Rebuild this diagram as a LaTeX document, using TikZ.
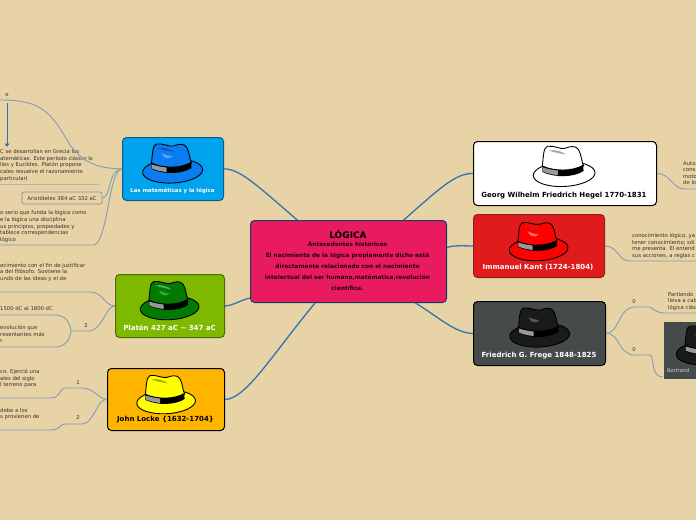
\documentclass[tikz,border=0pt]{standalone}
\usepackage{fontspec}
\setmainfont{DejaVu Sans}
\usetikzlibrary{calc,arrows.meta}
\definecolor{bgc}{HTML}{E8D3A6}
\definecolor{mainline}{HTML}{2F74B0}
\definecolor{subline}{HTML}{7F9FB3}
\definecolor{txtc}{HTML}{3A3026}
\definecolor{cKant}{HTML}{E01B1B}
\definecolor{cKantD}{HTML}{8A2020}
\definecolor{cGrey}{HTML}{454B4B}
\definecolor{cMat}{HTML}{00A3EE}
\definecolor{cMatD}{HTML}{125A86}
\definecolor{cPlat}{HTML}{7FB800}
\definecolor{cPlatD}{HTML}{4E6B10}
\definecolor{cLocke}{HTML}{FFB400}
\definecolor{cLog}{HTML}{E81B5E}
\definecolor{cLogD}{HTML}{173A66}
\definecolor{hBlue}{HTML}{0A7DF0}
\definecolor{hBlueA}{HTML}{0F55C0}
\definecolor{hBlueB}{HTML}{4FA5FF}
\definecolor{hGreen}{HTML}{007A00}
\definecolor{hGreenA}{HTML}{5FA85F}
\definecolor{hGreenB}{HTML}{3FA03F}
\definecolor{hYel}{HTML}{FFFF00}
\definecolor{hYelA}{HTML}{A8A800}
\definecolor{hRed}{HTML}{FF0000}
\definecolor{hRedA}{HTML}{C02020}
\definecolor{hRedB}{HTML}{FF6A6A}
\definecolor{hBlk}{HTML}{1A1A1A}
\definecolor{hBlkB}{HTML}{555555}
\tikzset{
 x=1pt,y=-1pt,
 mainbox/.style={draw,line width=1pt,rounded corners=4pt,inner sep=0pt,anchor=north west},
 title/.style={font=\fontsize{7}{8}\selectfont\bfseries,anchor=center,inner sep=0pt},
 body/.style={font=\fontsize{5.3}{6.6}\selectfont,text=txtc,align=left,anchor=north west,inner sep=0pt},
 num/.style={font=\fontsize{5.3}{6}\selectfont,text=txtc,inner sep=0pt},
 mainconn/.style={draw=mainline,line width=1.3pt},
 subconn/.style={draw=subline,line width=.9pt},
 under/.style={draw=subline!55!bgc,line width=1pt}
}
\newcommand{\fedora}[6]{%
 \begin{scope}[shift={(#1,#2)},scale=#3,line join=round]
  \draw[fill=#4,line width=.9pt,rotate=3] (0,3) ellipse [x radius=30,y radius=12];
  \draw[fill=#4,line width=.9pt] (-21,-5) .. controls (-20,-14) and (-20,-23) .. (-16,-24)
     .. controls (-10,-25) and (-4,-21) .. (1,-22) .. controls (6,-24) and (11,-25) .. (14,-21)
     .. controls (17,-16) and (17,-9) .. (19,-5) .. controls (10,2) and (-10,2) .. (-21,-5) -- cycle;
  \fill[#5] (-15,-20) .. controls (-8,-21) and (-2,-19) .. (2,-16) .. controls (-4,-17) and (-10,-18) .. (-15,-20) -- cycle;
  \fill[#6] (-11,-15) .. controls (-7,-13) and (-3,-12) .. (0,-12) .. controls (-3,-8) and (-9,-9) .. (-11,-15) -- cycle;
  \fill[black] (-21,-5) -- (-21,1) .. controls (-8,7) and (10,6) .. (19,0) -- (18.5,-6) .. controls (8,0) and (-8,0) .. (-21,-5) -- cycle;
  \fill[gray!80] (-20.5,-3.5) -- (-20.5,.5) .. controls (-16,2.5) and (-11,3.5) .. (-6,4) -- (-6,-.5) .. controls (-11,-1) and (-16,-2) .. (-20.5,-3.5) -- cycle;
 \end{scope}}
\begin{document}
\begin{tikzpicture}
\useasboundingbox (0,0) rectangle (696,520);
\fill[bgc] (0,0) rectangle (696,520);

% main boxes
\node[mainbox,fill=white,draw=black,minimum width=183pt,minimum height=64pt] (hegel) at (473,141) {};
\node[mainbox,fill=cKant,draw=cKantD,minimum width=131pt,minimum height=63pt] (kant) at (473,214) {};
\node[mainbox,fill=cGrey,draw=black,minimum width=132pt,minimum height=64pt] (frege) at (473,301) {};
\node[mainbox,fill=cGrey,draw=none,rounded corners=0pt,minimum width=40pt,minimum height=57pt] (russell) at (663,321) {};
\node[mainbox,fill=cMat,draw=cMatD,minimum width=101pt,minimum height=63pt] (mat) at (122,137) {};
\node[mainbox,fill=cPlat,draw=cPlatD,minimum width=109pt,minimum height=63pt] (plat) at (115,274) {};
\node[mainbox,fill=cLocke,draw=black,minimum width=117pt,minimum height=62pt] (locke) at (107,368) {};
\node[mainbox,fill=cLog,draw=cLogD,minimum width=196pt,minimum height=82pt] (logica) at (250,220) {};

% hats
\fedora{172.5}{168}{1}{hBlue}{hBlueA}{hBlueB}
\fedora{169.5}{305}{.98}{hGreen}{hGreenA}{hGreenB}
\fedora{166}{399}{.98}{hYel}{hYelA}{hYel}
\fedora{564}{171}{1.03}{white}{gray!70}{white}
\fedora{538.5}{246}{.98}{hRed}{hRedA}{hRedB}
\fedora{539.5}{332}{1}{hBlk}{hBlk}{hBlkB}
\fedora{706}{350}{1}{hBlk}{hBlk}{hBlkB}

% titles
\node[title,text=white,font=\fontsize{5.4}{6}\selectfont\bfseries] (tmat) at (172.5,191) {Las matemáticas y la lógica};
\node[title,text=white] (tplat) at (169.5,327.5) {Platón 427 aC \textasciitilde\ 347 aC};
\node[title] (tlocke) at (165.5,419.5) {John Locke \{1632-1704\}};
\node[title] (thegel) at (564,195.5) {Georg Wilhelm Friedrich Hegel 1770-1831};
\node[title,text=white] (tkant) at (538,267.5) {Immanuel Kant (1724-1804)};
\node[title,text=white] (tfrege) at (539,355.5) {Friedrich G. Frege 1848-1825};
\node[font=\fontsize{5}{6}\selectfont,text=white!85!black,anchor=west,inner sep=0pt] (trussell) at (667,371) {Bertrand};

% centre text
\node[font=\fontsize{9}{9}\selectfont\bfseries,inner sep=0pt] (t0) at (348,234) {LÓGICA};
\node[font=\fontsize{5.8}{11}\selectfont\bfseries,align=center,inner sep=0pt,anchor=north,text=black!85!cLog] (t1) at (347.5,242) {Antecedentes históricos\\
El nacimiento de la lógica propiamente dicho está\\
directamente relacionado con el nacimiento\\
intelectual del ser humano,matématica,revolución\\
científica.};

% main connectors
\draw[mainconn] ($(logica.north west)!.24!(logica.north east)$) .. controls (262,190) and (240,168) .. (mat.east);
\draw[mainconn] ($(logica.south west)!.06!(logica.north west)$) .. controls (238,301) and (235,305) .. (plat.east);
\draw[mainconn] ($(logica.south west)!.33!(logica.south east)$) .. controls (272,355) and (246,399) .. (locke.east);
\draw[mainconn] ($(logica.north west)!.78!(logica.north east)$) .. controls (438,190) and (455,173) .. (hegel.west);
\draw[mainconn] ($(logica.north east)!.33!(logica.south east)$) .. controls (455,245) and (465,246) .. (kant.west);
\draw[mainconn] ($(logica.south west)!.84!(logica.south east)$) .. controls (440,318) and (455,333) .. (frege.west);

% left: matemáticas
\node[body] (a0) at (0,149.5) {C se desarrollan en Grecia los\\atemáticas. Este período clásico lo\\lles y Euclides. Platón propone\\cales resuelve el razonamiento\\ particular)};
\draw[under] (0,184) -- (100,184);
\coordinate (a0end) at (0,100);
\draw[subconn] (mat.west) .. controls (100,168) and (85,165) .. (70,145) .. controls (50,110) and (40,100) .. (a0end);
\node[num] (o) at (7,95) {o};
\coordinate (arrowtop) at (7,103);
\coordinate (arrowend) at (7,147);
\draw[draw=mainline,line width=.7pt,-{Triangle[length=3.5pt,width=4.5pt]}] (arrowtop) -- (arrowend);
\node[draw=subline!60!gray,line width=.7pt,rounded corners=2pt,font=\fontsize{5.3}{6}\selectfont,text=txtc,minimum width=80pt,minimum height=12pt,inner sep=0pt] (ari) at (62,198) {Aristóteles 384 aC 332 aC};
\draw[subconn] (ari.east) .. controls (112,197) and (107,170) .. (mat.west);
\node[body] (a2) at (0,210.5) {o serio que funda la lógica como\\e la lógica una disciplina\\us principios, propiedades y\\tablece correspondencias\\ lógico};
\coordinate (a2end) at (0,245);
\draw[subconn] (mat.west) .. controls (108,170) and (108,245) .. (93,245) -- (a2end);

% left: Platón
\node[body] (b0) at (0,263) {ocimiento con el fin de justificar\\a del filósofo. Sostiene la\\undo de las ideas y el de};
\coordinate (b0end) at (0,292);
\draw[subconn] (plat.west) .. controls (105,306) and (103,292) .. (90,292) -- (b0end);
\node[body] (b1) at (0,306) {1500 dC al 1800 dC};
\node[body] (b2) at (0,325) {evolución que\\resentantes más\\r.};
\node[num] (n2) at (86,326) {2};
\coordinate (bmid) at (71,331);
\coordinate (b1end) at (0,315);
\coordinate (b2end) at (0,347);
\draw[subconn] (plat.west) .. controls (105,306) and (103,331) .. (88,331) -- (bmid);
\draw[subconn] (b1end) -- (55,315) .. controls (65,315) and (70,322) .. (bmid) .. controls (70,340) and (65,347) .. (55,347) -- (b2end);

% left: Locke
\node[body] (c0) at (0,369) {co. Ejerció una\\ales del siglo\\l terreno para};
\node[body] (c1) at (0,408) {debe a los\\s provienen de};
\node[num] (n3) at (78,383) {1};
\node[num] (n4) at (78,418) {2};
\coordinate (c0end) at (0,398);
\coordinate (c1end) at (0,430);
\draw[subconn] (locke.west) .. controls (97,398) and (94,388) .. (82,388) -- (66,388) .. controls (58,388) and (62,398) .. (50,398) -- (c0end);
\draw[subconn] (locke.west) .. controls (97,398) and (94,424) .. (82,424) -- (66,424) .. controls (58,424) and (62,430) .. (50,430) -- (c1end);

% right: Hegel
\node[body] (d0) at (683,161) {Auto-\\cons\\moto\\de lo};
\coordinate (d0end) at (696,189);
\draw[subconn] (hegel.east) .. controls (670,173) and (672,189) .. (685,189) -- (d0end);

% right: Kant
\node[body] (e0) at (632,233) {conocimiento lógico, ya\\tener conocimiento; sól\\me presenta. El entend\\sus acciones, a reglas c};
\coordinate (e0end) at (696,261);
\draw[subconn] (kant.east) .. controls (618,246) and (618,261) .. (630,261) -- (e0end);

% right: Frege
\node[body] (f0) at (668,292) {Partiendo\\lleva a cab\\lógica clás};
\node[num] (n5) at (634,302) {0};
\node[num] (n6) at (634,350) {0};
\coordinate (f0end) at (696,313);
\draw[subconn] (frege.east) .. controls (620,333) and (618,307) .. (635,307) -- (650,307) .. controls (656,311) and (658,313) .. (665,313) -- (f0end);
\draw[subconn] (frege.east) .. controls (620,333) and (618,355) .. (635,355) -- (650,355) .. controls (655,357) and (650,377) .. (663,377);
\end{tikzpicture}
\end{document}
